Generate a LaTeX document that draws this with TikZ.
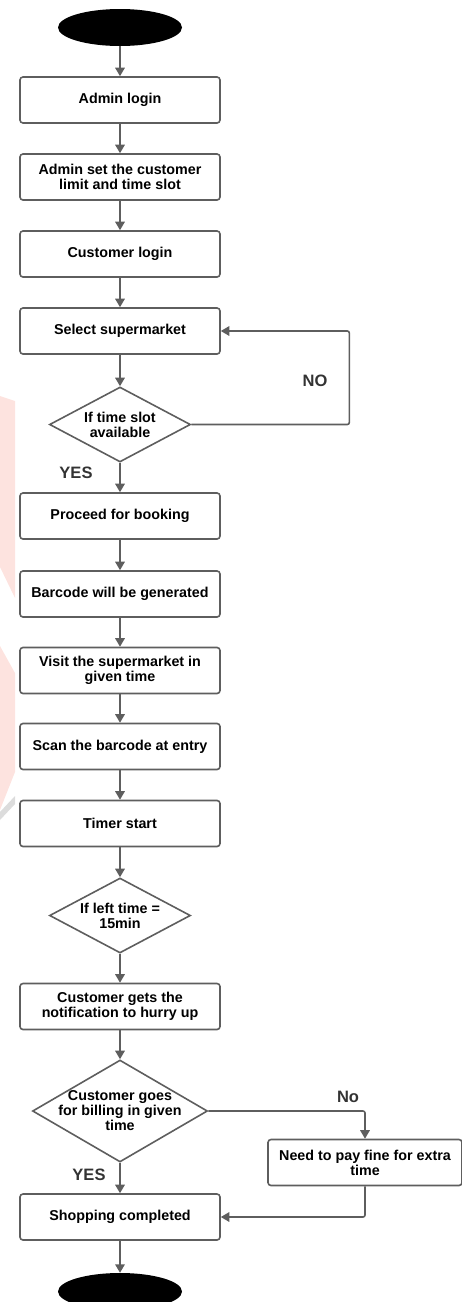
\documentclass[tikz,border=0pt]{standalone}
\usepackage{fontspec}
\setmainfont{Liberation Sans}
\usetikzlibrary{shapes.geometric,arrows.meta}
\definecolor{linegray}{HTML}{5E5E5E}
\definecolor{wmpink}{HTML}{FDE3DF}
\definecolor{wmgray}{HTML}{DCDCDC}
\begin{document}
\begin{tikzpicture}[x=1pt,y=-1pt,
  every node/.style={font=\bfseries\fontsize{14.3}{15}\selectfont},
  stepbox/.style={draw=linegray,line width=1.6pt,rounded corners=3pt,minimum width=200pt,minimum height=46pt,align=center,inner sep=0pt},
  decision/.style={draw=linegray,line width=1.6pt,diamond,inner sep=0pt},
  terminal/.style={ellipse,fill=black,minimum width=124pt,minimum height=37pt,inner sep=0pt},
  arr/.style={draw=linegray,line width=1.6pt,-{Triangle[length=8.5pt,width=9.5pt]}},
  lbl/.style={font=\bfseries\fontsize{16.5}{18}\selectfont,text=black!80}]
\useasboundingbox (0,0) rectangle (462,1302);
\begin{scope}
\clip (0,0) rectangle (462,1302);
% faint watermark shapes at left edge
\fill[wmpink] (0,396) -- (15,401) -- (15,598) -- (0,567) -- cycle;
\fill[wmpink] (0,646) -- (15,673) -- (15,772) -- (0,810) -- cycle;
\fill[wmgray] (0,812) -- (15,796) -- (15,804) -- (0,820) -- cycle;

\node[terminal] (start) at (120,27.5) {};
\node[stepbox] (b1) at (120,100) {Admin login};
\node[stepbox] (b2) at (120,177) {Admin set the customer\\limit and time slot};
\node[stepbox] (b3) at (120,254) {Customer login};
\node[stepbox] (b4) at (120,331) {Select supermarket};
\node[decision,minimum width=141pt,minimum height=75pt,
  label={[align=center]center:If time slot\\available}] (d1) at (120,424.5) {};
\node[stepbox] (b5) at (120,516) {Proceed for booking};
\node[stepbox] (b6) at (120,594) {Barcode will be generated};
\node[stepbox] (b7) at (120,670.5) {Visit the supermarket in\\given time};
\node[stepbox] (b8) at (120,746.5) {Scan the barcode at entry};
\node[stepbox] (b9) at (120,823.5) {Timer start};
\node[decision,minimum width=141pt,minimum height=75pt,
  label={[align=center]center:If left time =\\15min}] (d2) at (120,915.5) {};
\node[stepbox] (b10) at (120,1006.5) {Customer gets the\\notification to hurry up};
\node[decision,minimum width=175pt,minimum height=102pt,
  label={[align=center]center:Customer goes\\for billing in given\\time}] (d3) at (120,1111) {};
\node[stepbox,minimum width=194pt] (fine) at (365,1162.5) {Need to pay fine for extra\\time};
\node[stepbox] (b11) at (120,1217) {Shopping completed};
\node[terminal] (end) at (120,1291.5) {};

\draw[arr] (start) -- (b1);
\draw[arr] (b1) -- (b2);
\draw[arr] (b2) -- (b3);
\draw[arr] (b3) -- (b4);
\draw[arr] (b4) -- (d1);
\draw[arr,rounded corners=2pt] (d1.east) -- ++(158,0) |- (b4.east);
\draw[arr] (d1) -- (b5);
\draw[arr] (b5) -- (b6);
\draw[arr] (b6) -- (b7);
\draw[arr] (b7) -- (b8);
\draw[arr] (b8) -- (b9);
\draw[arr] (b9) -- (d2);
\draw[arr] (d2) -- (b10);
\draw[arr] (b10) -- (d3);
\draw[arr,rounded corners=2pt] (d3.east) -| (fine.north);
\draw[arr] (d3) -- (b11);
\draw[arr,rounded corners=2pt] (fine.south) |- (b11.east);
\draw[arr] (b11) -- (end);

\node[lbl] (no1) at (315,381) {NO};
\node[lbl] (yes1) at (76,473) {YES};
\node[lbl] (no2) at (348,1097) {No};
\node[lbl] (yes2) at (89,1175) {YES};
\end{scope}
\end{tikzpicture}
\end{document}
